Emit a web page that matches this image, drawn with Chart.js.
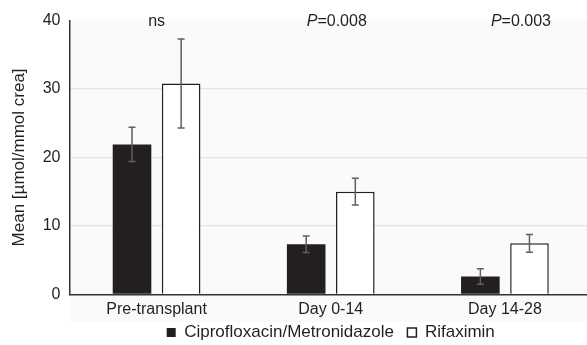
<!DOCTYPE html>
<html>
<head>
<meta charset="utf-8">
<script src="https://cdn.jsdelivr.net/npm/chart.js@4"></script>
<style>
  html, body { margin: 0; padding: 0; background: #fff; overflow: hidden; }
  #wrap { width: 592px; height: 345px; position: relative; }
</style>
</head>
<body>
<div id="wrap"><canvas id="myChart"></canvas></div>
<script>
'use strict';
let categories = ['Pre-transplant', 'Day 0-14', 'Day 14-28']
let seriesNames = ['Ciprofloxacin/Metronidazole', 'Rifaximin']
let ciproMeans = [21.9, 7.3, 2.6]
let ciproErrors = [2.5, 1.2, 1.15]
let rifaxMeans = [30.8, 15.0, 7.45]
let rifaxErrors = [6.5, 1.95, 1.3]
let pLabels = [['', 'ns'], ['P', '=0.008'], ['P', '=0.003']]
let yTicks = [0, 10, 20, 30, 40]

let ink = '#231f20'
let fontName = '"Liberation Sans", Arial, Helvetica, sans-serif'

// soft grey plot background
const backdrop = {
  id: 'backdrop',
  beforeDraw(chart) {
    let a = chart.chartArea
    let c = chart.ctx
    c.save()
    c.fillStyle = '#fafafa'
    c.fillRect(a.left, a.top, chart.width - a.left, 322 - a.top)
    c.restore()
  }
}

// error bars from the error arrays
const errorBars = {
  id: 'errorBars',
  afterDatasetsDraw(chart) {
    let c = chart.ctx
    let y = chart.scales.y
    let errs = [ciproErrors, rifaxErrors]
    c.save()
    c.strokeStyle = '#5f5f5f'
    c.lineWidth = 1.5
    chart.data.datasets.forEach(function(ds, d) {
      let meta = chart.getDatasetMeta(d)
      meta.data.forEach(function(bar, i) {
        let hi = y.getPixelForValue(ds.data[i] + errs[d][i])
        let lo = y.getPixelForValue(ds.data[i] - errs[d][i])
        c.beginPath()
        c.moveTo(bar.x, hi); c.lineTo(bar.x, lo)
        c.moveTo(bar.x - 3.5, hi); c.lineTo(bar.x + 3.5, hi)
        c.moveTo(bar.x - 3.5, lo); c.lineTo(bar.x + 3.5, lo)
        c.stroke()
      })
    })
    c.restore()
  }
}

// significance labels above each group
const pValues = {
  id: 'pValues',
  afterDraw(chart) {
    let c = chart.ctx
    let x = chart.scales.x
    let top = chart.scales.y.getPixelForValue(40)
    let shift = [0, 6, 16]
    c.save()
    c.fillStyle = ink
    c.textBaseline = 'middle'
    pLabels.forEach(function(lab, i) {
      c.font = 'italic 16px ' + fontName
      let w1 = c.measureText(lab[0]).width
      c.font = '16px ' + fontName
      let w2 = c.measureText(lab[1]).width
      let start = x.getPixelForValue(i) + shift[i] - (w1 + w2) / 2
      c.font = 'italic 16px ' + fontName
      c.fillText(lab[0], start, top + 1)
      c.font = '16px ' + fontName
      c.fillText(lab[1], start + w1, top + 1)
    })
    c.restore()
  }
}

const ctx = document.getElementById('myChart')
new Chart(ctx, {
  type: 'bar',
  data: {
    labels: categories,
    datasets: [{
      label: seriesNames[0],
      data: ciproMeans,
      backgroundColor: ink,
      borderColor: ink,
      borderWidth: 0
    }, {
      label: seriesNames[1],
      data: rifaxMeans,
      backgroundColor: '#ffffff',
      borderColor: ink,
      borderWidth: 1.5
    }]
  },
  options: {
    responsive: true,
    maintainAspectRatio: false,
    animation: false,
    categoryPercentage: 0.564,
    barPercentage: 0.786,
    layout: { padding: { top: 20.5, left: 0, right: 0, bottom: -6 } },
    plugins: {
      tooltip: { enabled: false },
      legend: {
        position: 'bottom',
        fullSize: false,
        labels: {
          color: ink,
          font: { family: fontName, size: 17, lineHeight: 1 },
          boxWidth: 9,
          boxHeight: 9,
          padding: 4,
          generateLabels: function(chart) {
            let items = Chart.defaults.plugins.legend.labels.generateLabels(chart)
            items[0].text = items[0].text + '  '
            return items
          }
        }
      }
    },
    scales: {
      x: {
        grid: { display: false, drawTicks: false },
        border: { display: true, color: '#333', width: 1.5 },
        ticks: { color: ink, font: { family: fontName, size: 16 }, padding: 6 },
        afterFit: function(s) { s.height = 25.7 }
      },
      y: {
        min: 0,
        max: 40,
        afterBuildTicks: function(s) { s.ticks = yTicks.map(v => ({ value: v })) },
        grid: {
          drawTicks: false,
          color: function(c) { return (c.tick.value === 0 || c.tick.value === 40) ? 'rgba(0,0,0,0)' : '#e4e4e4' },
          lineWidth: 1.2
        },
        border: { display: true, color: '#333', width: 1.5 },
        ticks: { color: ink, font: { family: fontName, size: 16 }, padding: 9 },
        title: {
          display: true,
          text: 'Mean [µmol/mmol crea]',
          color: ink,
          font: { family: fontName, size: 17 },
          padding: { top: 9, bottom: 0 }
        },
        afterFit: function(s) { s.width = 69.5 }
      }
    }
  },
  plugins: [backdrop, errorBars, pValues]
})
</script>
</body>
</html>
